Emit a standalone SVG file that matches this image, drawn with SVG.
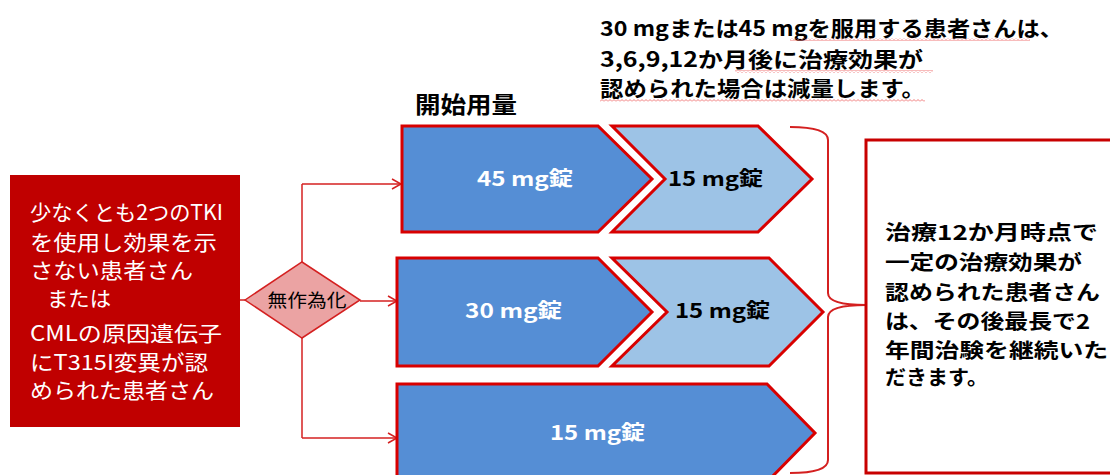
<svg xmlns="http://www.w3.org/2000/svg" width="1110" height="475" viewBox="0 0 1110 475">
<style>
.jp{font-family:"Noto Sans CJK JP","Noto Sans",sans-serif}
.wt{fill:#fff;font-size:21px}
.bk{fill:#000;font-size:21px;font-weight:bold}
.bk2{fill:#000;font-size:20px;font-weight:bold}
.cw{fill:#fff;font-size:20px;font-weight:bold}
.cb{fill:#000;font-size:20px;font-weight:bold}
.dark{fill:#558ED5;stroke:#D80000;stroke-width:3;stroke-linejoin:miter}
.light{fill:#9DC3E6;stroke:#D80000;stroke-width:3;stroke-linejoin:miter}
.conn{fill:none;stroke:#D42020;stroke-width:1.5}
</style>
<defs>
<marker id="arr" markerWidth="12" markerHeight="12" refX="10" refY="6" orient="auto" markerUnits="userSpaceOnUse">
<path d="M1,1 L10,6 L1,11" fill="none" stroke="#D42020" stroke-width="1.5"/>
</marker>
<pattern id="sq" width="4" height="3" patternUnits="userSpaceOnUse">
<path d="M0,2.5 L2,0.5 L4,2.5" fill="none" stroke="#F07878" stroke-width="1"/>
</pattern>
</defs>
<rect width="1110" height="475" fill="#fff"/>

<g id="note-top">
<text class="jp bk" x="600" y="36" textLength="463" lengthAdjust="spacingAndGlyphs">30 mgまたは45 mgを服用する患者さんは、</text>
<text class="jp bk" x="600" y="67" textLength="323" lengthAdjust="spacingAndGlyphs">3,6,9,12か月後に治療効果が</text>
<text class="jp bk" x="600" y="96" textLength="325" lengthAdjust="spacingAndGlyphs">認められた場合は減量します。</text>
<rect x="790" y="38" width="240" height="3" fill="url(#sq)"/>
<rect x="735" y="70" width="198" height="3" fill="url(#sq)"/>
<rect x="600" y="99" width="325" height="3" fill="url(#sq)"/>
</g>

<g id="label-start">
<text class="jp" x="415" y="113" font-size="23" font-weight="bold" fill="#000" textLength="102" lengthAdjust="spacingAndGlyphs">開始用量</text>
</g>

<g id="connectors">
<line class="conn" x1="240" y1="300" x2="245" y2="300"/>
<line class="conn" x1="302" y1="184" x2="302" y2="262"/>
<line class="conn" x1="302" y1="338" x2="302" y2="438"/>
<path class="conn" d="M302,184 L401,184" marker-end="url(#arr)"/>
<path class="conn" d="M360,301 L397,301" marker-end="url(#arr)"/>
<path class="conn" d="M302,438 L397,438" marker-end="url(#arr)"/>
<path d="M790,127 Q828,127 828,140 L828,293 Q828,305 866,305 Q828,305 828,317 L828,460 Q828,473 790,473" fill="none" stroke="#D42020" stroke-width="2"/>
</g>

<g id="patients">
<rect x="10" y="175" width="230" height="252" fill="#C00000"/>
<text class="jp wt" x="30" y="220" textLength="193" lengthAdjust="spacingAndGlyphs">少なくとも2つのTKI</text>
<text class="jp wt" x="30" y="250" textLength="187" lengthAdjust="spacingAndGlyphs">を使用し効果を示</text>
<text class="jp wt" x="30" y="278" textLength="163" lengthAdjust="spacingAndGlyphs">さない患者さん</text>
<text class="jp wt" x="47" y="306" textLength="64" lengthAdjust="spacingAndGlyphs">または</text>
<text class="jp wt" x="30" y="341" textLength="192" lengthAdjust="spacingAndGlyphs">CMLの原因遺伝子</text>
<text class="jp wt" x="30" y="370" textLength="178" lengthAdjust="spacingAndGlyphs">にT315I変異が認</text>
<text class="jp wt" x="30" y="398" textLength="184" lengthAdjust="spacingAndGlyphs">められた患者さん</text>
</g>

<g id="randomize">
<polygon points="245,300 302,262 360,300 302,338" fill="#EBA3A3" stroke="#D42020" stroke-width="1.5"/>
<text class="jp" x="307" y="307" font-size="18" fill="#000" text-anchor="middle" textLength="79" lengthAdjust="spacingAndGlyphs">無作為化</text>
</g>

<g id="dose45">
<polygon class="dark" points="402,126 598,126 652,179 598,232 402,232"/>
<text class="jp cw" x="477" y="186" textLength="96" lengthAdjust="spacingAndGlyphs">45 mg錠</text>
</g>
<g id="dose45-reduced">
<polygon class="light" points="612,126 758,126 812,179 758,232 612,232 665,179"/>
<text class="jp cb" x="668" y="186" textLength="95" lengthAdjust="spacingAndGlyphs">15 mg錠</text>
</g>
<g id="dose30">
<polygon class="dark" points="397,258 598,258 652,312 598,366 397,366"/>
<text class="jp cw" x="465" y="318" textLength="97" lengthAdjust="spacingAndGlyphs">30 mg錠</text>
</g>
<g id="dose30-reduced">
<polygon class="light" points="612,258 769,258 823,312 769,366 612,366 667,312"/>
<text class="jp cb" x="675" y="318" textLength="95" lengthAdjust="spacingAndGlyphs">15 mg錠</text>
</g>
<g id="dose15">
<polygon class="dark" points="397,384 767,384 815,433 767,482 397,482"/>
<text class="jp cw" x="550" y="440" textLength="95" lengthAdjust="spacingAndGlyphs">15 mg錠</text>
</g>

<g id="continuation">
<rect x="866" y="140" width="260" height="333" fill="#fff" stroke="#C80000" stroke-width="3"/>
<text class="jp bk2" x="885" y="240" textLength="213" lengthAdjust="spacingAndGlyphs">治療12か月時点で</text>
<text class="jp bk2" x="885" y="270" textLength="197" lengthAdjust="spacingAndGlyphs">一定の治療効果が</text>
<text class="jp bk2" x="885" y="300" textLength="215" lengthAdjust="spacingAndGlyphs">認められた患者さん</text>
<text class="jp bk2" x="885" y="329" textLength="205" lengthAdjust="spacingAndGlyphs">は、その後最長で2</text>
<text class="jp bk2" x="885" y="358" textLength="223" lengthAdjust="spacingAndGlyphs">年間治験を継続いた</text>
<text class="jp bk2" x="885" y="385" textLength="103" lengthAdjust="spacingAndGlyphs">だきます。</text>
</g>
</svg>
